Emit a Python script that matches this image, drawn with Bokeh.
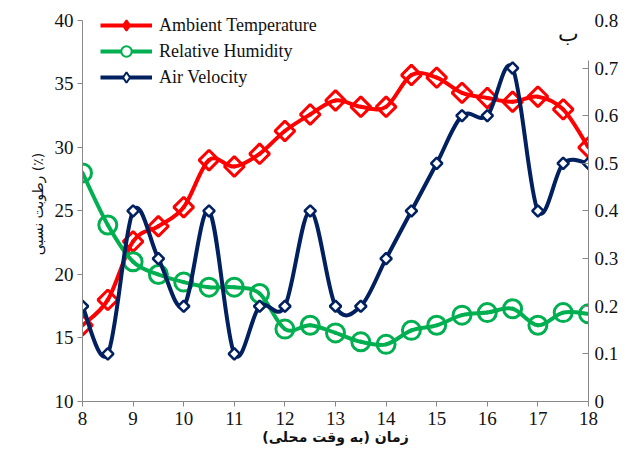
import numpy as np
from bokeh.plotting import figure
from bokeh.models import Range1d, LinearAxis, FixedTicker, Legend, LegendItem, Label
from bokeh.embed import file_html
from bokeh.resources import INLINE

hours = [8, 8.5, 9, 9.5, 10, 10.5, 11, 11.5, 12, 12.5, 13, 13.5, 14, 14.5, 15, 15.5, 16, 16.5, 17, 17.5, 18]
temperature = [16.0, 18.0, 22.6, 23.8, 25.3, 29.0, 28.5, 29.5, 31.3, 32.6, 33.7, 33.2, 33.2, 35.7, 35.5, 34.3, 33.9, 33.6, 34.0, 33.0, 30.0]
humidity = [28.0, 23.9, 21.0, 20.0, 19.4, 19.0, 19.0, 18.5, 15.7, 16.0, 15.4, 14.7, 14.5, 15.6, 16.0, 16.8, 17.0, 17.3, 16.0, 17.0, 16.9]
velocity = [0.2, 0.1, 0.4, 0.3, 0.2, 0.4, 0.1, 0.2, 0.2, 0.4, 0.2, 0.2, 0.3, 0.4, 0.5, 0.6, 0.6, 0.7, 0.4, 0.5, 0.5]

x_ticks = [8, 9, 10, 11, 12, 13, 14, 15, 16, 17, 18]
left_ticks = [10, 15, 20, 25, 30, 35, 40]
right_ticks = [0, 0.1, 0.2, 0.3, 0.4, 0.5, 0.6, 0.7, 0.8]

labels = ["Ambient Temperature", "Relative Humidity", "Air Velocity"]
colors = ["#FF0000", "#00B050", "#002060"]

SERIF = "Liberation Serif"

LEFT_MIN, LEFT_MAX = 10, 40
TOP_EXTRA = 14.0 / 382.0  # frame extends a little above the top tick so the legend is not clipped
y_top = LEFT_MAX + (LEFT_MAX - LEFT_MIN) * TOP_EXTRA
v_top = 0.8 + 0.8 * TOP_EXTRA


def smooth_segments(xs, ys):
    x = np.asarray(xs, float)
    y = np.asarray(ys, float)
    xp = np.concatenate([[x[0]], x, [x[-1]]])
    yp = np.concatenate([[y[0]], y, [y[-1]]])
    n = len(x)
    d = dict(x0=[], y0=[], x1=[], y1=[], cx0=[], cy0=[], cx1=[], cy1=[])
    for i in range(n - 1):
        p0 = (xp[i], yp[i]); p1 = (xp[i + 1], yp[i + 1])
        p2 = (xp[i + 2], yp[i + 2]); p3 = (xp[i + 3], yp[i + 3])
        d["x0"].append(p1[0]); d["y0"].append(p1[1])
        d["x1"].append(p2[0]); d["y1"].append(p2[1])
        d["cx0"].append(p1[0] + (p2[0] - p0[0]) / 6.0)
        d["cy0"].append(p1[1] + (p2[1] - p0[1]) / 6.0)
        d["cx1"].append(p2[0] - (p3[0] - p1[0]) / 6.0)
        d["cy1"].append(p2[1] - (p3[1] - p1[1]) / 6.0)
    return d


p = figure(width=621, height=447, output_backend="svg", toolbar_location=None,
           x_range=Range1d(8, 18), y_range=Range1d(LEFT_MIN, y_top),
           min_border_left=82, min_border_right=31, min_border_top=6, min_border_bottom=45)
p.extra_y_ranges = {"v": Range1d(0, v_top)}
p.grid.visible = False
p.outline_line_color = None
p.background_fill_color = "white"
p.border_fill_color = "white"

t_seg = smooth_segments(hours, temperature)
h_seg = smooth_segments(hours, humidity)
v_seg = smooth_segments(hours, velocity)

p.bezier(source=t_seg, x0="x0", y0="y0", x1="x1", y1="y1", cx0="cx0", cy0="cy0", cx1="cx1", cy1="cy1",
         line_color=colors[0], line_width=4, line_cap="round")
p.scatter(hours, temperature, marker="square", angle=np.pi / 4, size=14, line_color=colors[0],
          line_width=3, fill_color=None)

p.bezier(source=h_seg, x0="x0", y0="y0", x1="x1", y1="y1", cx0="cx0", cy0="cy0", cx1="cx1", cy1="cy1",
         line_color=colors[1], line_width=4, line_cap="round")
p.scatter(hours, humidity, marker="circle", size=18, line_color=colors[1], line_width=3, fill_color=None)

p.bezier(source=v_seg, x0="x0", y0="y0", x1="x1", y1="y1", cx0="cx0", cy0="cy0", cx1="cx1", cy1="cy1",
         line_color=colors[2], line_width=4, line_cap="round", y_range_name="v")
p.scatter(hours, velocity, marker="square", angle=np.pi / 4, size=8, line_color=colors[2],
          line_width=2.5, fill_color="white", y_range_name="v")

items = []
for lab, col, mk in zip(labels, colors, ["diamond", "circle", "diamond"]):
    lr = p.line([np.nan], [np.nan], line_color=col, line_width=4)
    mr = p.scatter([np.nan], [np.nan], marker=mk, line_color=col, line_width=2,
                   fill_color=col if col == colors[0] else "white")
    items.append(LegendItem(label=lab, renderers=[lr, mr]))

legend = Legend(items=items, location=(18, 311), padding=0, margin=0, spacing=0,
                glyph_width=52, glyph_height=26, label_standoff=7,
                label_text_font=SERIF, label_text_font_size="18px", label_text_color="#111111",
                border_line_color=None, background_fill_alpha=0)
p.add_layout(legend, "center")

ax = p.xaxis[0]
ax.ticker = FixedTicker(ticks=x_ticks)
ax.axis_label = "زمان (به وقت محلی)"
ax.axis_label_text_font = "DejaVu Sans"
ax.axis_label_text_font_style = "bold"
ax.axis_label_text_font_size = "14px"
ax.axis_label_standoff = 1
ax.major_label_standoff = 5

ay = p.yaxis[0]
ay.ticker = FixedTicker(ticks=left_ticks)
ay.bounds = (LEFT_MIN, LEFT_MAX)
ay.axis_label = "رطوبت نسبی (٪)"
ay.axis_label_text_font = "DejaVu Sans"
ay.axis_label_text_font_style = "normal"
ay.axis_label_text_font_size = "14px"
ay.axis_label_standoff = 6
ay.major_label_standoff = 4

# right axis line with inward ticks (line stops just above 0.7); its own labels are not drawn
ar_line = LinearAxis(y_range_name="v", ticker=FixedTicker(ticks=right_ticks[:-1]), bounds=(0, 0.716))
ar_line.major_tick_in = 6
ar_line.major_tick_out = 0
ar_line.major_label_text_font_size = "1px"
ar_line.major_label_text_color = None
ar_line.major_label_standoff = 0
p.add_layout(ar_line, "right")

# labels-only right axis
ar = LinearAxis(y_range_name="v", ticker=FixedTicker(ticks=right_ticks), bounds=(0, 0.8))
ar.major_label_overrides = {v: f"{v:g}" for v in right_ticks}
ar.axis_line_color = None
ar.major_tick_line_color = None
ar.major_tick_in = 0
ar.major_tick_out = 0
ar.major_label_standoff = 6
p.add_layout(ar, "right")

for a in [ax, ay, ar_line]:
    a.axis_line_color = "#888888"
    a.major_tick_line_color = "#888888"
for a in [ax, ay, ar, ar_line]:
    a.minor_tick_line_color = None
    a.major_label_text_font = SERIF
    a.axis_label_text_color = "#111111"
for a in [ax, ay, ar]:
    a.major_label_text_font_size = "19px"
    a.major_label_text_color = "#111111"
for a in [ax, ay]:
    a.major_tick_in = 0
    a.major_tick_out = 5

p.add_layout(Label(x=17.6, y=39.0, text="ب", text_font=SERIF, text_font_size="22px",
                   text_color="#111111", text_align="center", text_baseline="middle"))

open("out.html", "w").write(file_html(p, INLINE))
